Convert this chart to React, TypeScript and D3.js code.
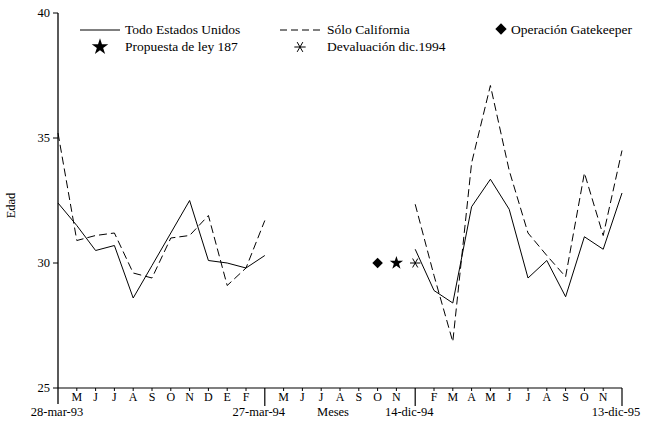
import React from "react";
import * as d3 from "d3";

const W = 645, H = 431;

// x index: 0 = 28-mar-93, 11 = 27-mar-94, 19 = 14-dic-94, 30 = 13-dic-95
const seg1Idx = [0, 1, 2, 3, 4, 5, 6, 7, 8, 9, 10, 11];
const seg1Total = [32.4, 31.5, 30.5, 30.7, 28.6, 29.9, 31.2, 32.5, 30.1, 30.0, 29.8, 30.3];
const seg1Calif = [35.2, 30.9, 31.1, 31.2, 29.6, 29.4, 31.0, 31.1, 31.9, 29.1, 29.8, 31.7];

const seg2Idx = [19, 20, 21, 22, 23, 24, 25, 26, 27, 28, 29, 30];
const seg2Total = [30.55, 28.9, 28.4, 32.25, 33.35, 32.15, 29.4, 30.1, 28.65, 31.05, 30.55, 32.8];
const seg2Calif = [32.35, 29.5, 26.85, 34.0, 37.1, 33.7, 31.2, 30.3, 29.45, 33.6, 31.1, 34.5];

const monthIdx = [1, 2, 3, 4, 5, 6, 7, 8, 9, 10, 12, 13, 14, 15, 16, 17, 18, 20, 21, 22, 23, 24, 25, 26, 27, 28, 29];
const monthLabels = ["M", "J", "J", "A", "S", "O", "N", "D", "E", "F", "M", "J", "J", "A", "S", "O", "N", "F", "M", "A", "M", "J", "J", "A", "S", "O", "N"];

const dateIdx = [0, 11, 19, 30];
const dateLabels = ["28-mar-93", "27-mar-94", "14-dic-94", "13-dic-95"];

const yTicks = [25, 30, 35, 40];

const eventIdx = [17, 18, 19];
const eventValue = [30, 30, 30];
const eventType = ["diamond", "star", "asterisk"];

const FONT = "'Liberation Serif', 'DejaVu Serif', serif";

export default function App() {
  const x = d3.scaleLinear().domain([0, 30]).range([58, 622]);
  const y = d3.scaleLinear().domain([25, 40]).range([388, 13]);

  const line = d3.line<[number, number]>().x(d => x(d[0])).y(d => y(d[1]));
  const pts = (idx: number[], v: number[]) => idx.map((i, k) => [i, v[k]] as [number, number]);

  const diamondS = (s: number) => d3.symbol().type(d3.symbolSquare).size(s)()!;
  const starS = (s: number) => d3.symbol().type(d3.symbolStar).size(s)()!;
  const astS = (s: number) => d3.symbol().type(d3.symbolAsterisk).size(s)()!;

  const renderSym = (t: string, cx: number, cy: number, big: boolean, key?: any) => {
    if (t === "diamond")
      return <path key={key} d={diamondS(big ? 64 : 56)} transform={`translate(${cx},${cy}) rotate(45)`} fill="#000" />;
    if (t === "star")
      return <path key={key} d={starS(big ? 85 : 55)} transform={`translate(${cx},${cy})`} fill="#000" />;
    return <path key={key} d={astS(big ? 90 : 75)} transform={`translate(${cx},${cy}) rotate(90)`} fill="none" stroke="#000" strokeWidth={1} />;
  };

  const dash = "8,4";
  const axisY = y(25);

  return (
    <svg width={W} height={H} style={{ position: "absolute", left: 0, top: 0, background: "#fff" }}
      fontFamily={FONT}>
      <rect width={W} height={H} fill="#fff" />
      {/* y axis */}
      <line x1={x(0)} x2={x(0)} y1={y(40)} y2={axisY + 16} stroke="#000" strokeWidth={1.3} />
      {yTicks.map(t => (
        <g key={t}>
          <line x1={x(0) - 5} x2={x(0)} y1={y(t)} y2={y(t)} stroke="#000" />
          <text x={x(0) - 8} y={y(t) + 4} fontSize={12.5} textAnchor="end">{t}</text>
        </g>
      ))}
      <text transform={`translate(15,${y(32.3)}) rotate(-90)`} fontSize={12.5} textAnchor="middle">Edad</text>
      {/* x axis */}
      <line x1={x(0)} x2={x(30)} y1={axisY} y2={axisY} stroke="#000" strokeWidth={1.2} />
      {monthIdx.map((i, k) => (
        <g key={k}>
          <line x1={x(i)} x2={x(i)} y1={axisY} y2={axisY + 3} stroke="#000" />
          <text x={x(i)} y={axisY + 13} fontSize={12} textAnchor="middle">{monthLabels[k]}</text>
        </g>
      ))}
      {dateIdx.map((i, k) => (
        <g key={k}>
          {k > 0 && <line x1={x(i)} x2={x(i)} y1={axisY} y2={axisY + 18} stroke="#000" strokeWidth={1.2} />}
          <text x={x(i) - (k === 0 ? 1 : 6)} y={axisY + 28} fontSize={12.5} textAnchor="middle">{dateLabels[k]}</text>
        </g>
      ))}
      <text x={333} y={axisY + 28} fontSize={12.5} textAnchor="middle">Meses</text>

      {/* series */}
      <path d={line(pts(seg1Idx, seg1Total))!} fill="none" stroke="#000" strokeWidth={1} />
      <path d={line(pts(seg1Idx, seg1Calif))!} fill="none" stroke="#000" strokeWidth={1} strokeDasharray={dash} />
      <path d={line(pts(seg2Idx, seg2Total))!} fill="none" stroke="#000" strokeWidth={1} />
      <path d={line(pts(seg2Idx, seg2Calif))!} fill="none" stroke="#000" strokeWidth={1} strokeDasharray={dash} />

      {/* events */}
      {eventIdx.map((i, k) => renderSym(eventType[k], x(i), y(eventValue[k]), false, k))}

      {/* legend */}
      <line x1={80} x2={120} y1={30} y2={30} stroke="#000" />
      <text x={125} y={34} fontSize={13.5}>Todo Estados Unidos</text>
      <line x1={280} x2={323} y1={30} y2={30} stroke="#000" strokeDasharray="7,4" />
      <text x={327} y={34} fontSize={13.5}>Sólo California</text>
      {renderSym("diamond", 501, 29, true)}
      <text x={511} y={34} fontSize={13.5}>Operación Gatekeeper</text>
      {renderSym("star", 100, 47, true)}
      <text x={125} y={51} fontSize={13.5}>Propuesta de ley 187</text>
      {renderSym("asterisk", 300, 47, true)}
      <text x={327} y={51} fontSize={13.5}>Devaluación dic.1994</text>
    </svg>
  );
}
